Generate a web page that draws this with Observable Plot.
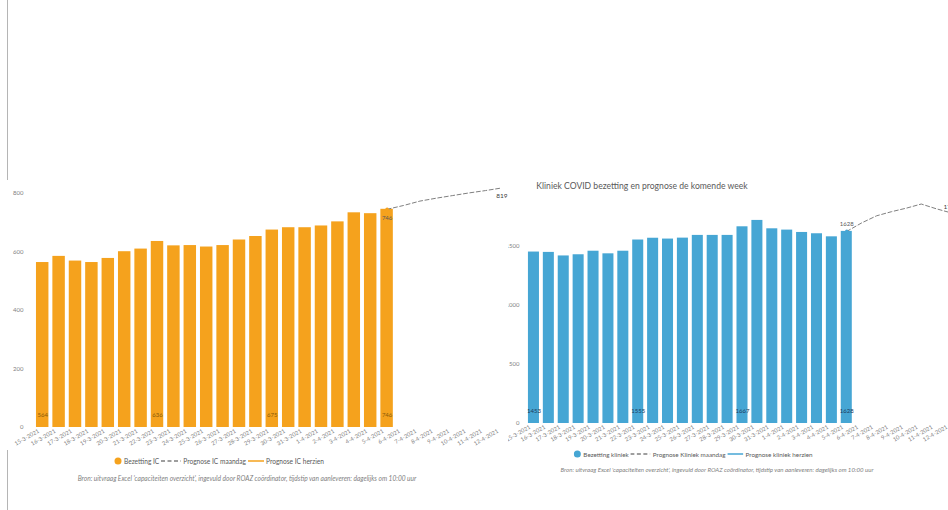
<!DOCTYPE html>
<html><head><meta charset="utf-8">
<script src="https://cdn.jsdelivr.net/npm/d3@7"></script>
<script src="https://cdn.jsdelivr.net/npm/@observablehq/plot@0.6"></script>
<style>
body{margin:0;background:#fff;}
#wrap{position:relative;width:948px;height:510px;overflow:hidden;background:#fff;font-family:Lato,"Open Sans",sans-serif;}
.abs{position:absolute;white-space:nowrap;}
.ctr{transform:translate(-50%,-50%);}
.legend{color:#595959;display:flex;align-items:center;}
.legend svg{display:inline-block;margin:0 2px;}
.cap{color:#7f7f7f;font-style:italic;}
#border{position:absolute;left:7px;top:0;width:1px;height:510px;background:#b5b5b5;}
</style></head><body><div id="wrap"><div id="border"></div></div>
<script>
const dates = ["15-3-2021","16-3-2021","17-3-2021","18-3-2021","19-3-2021","20-3-2021","21-3-2021","22-3-2021","23-3-2021","24-3-2021","25-3-2021","26-3-2021","27-3-2021","28-3-2021","29-3-2021","30-3-2021","31-3-2021","1-4-2021","2-4-2021","3-4-2021","4-4-2021","5-4-2021","6-4-2021","7-4-2021","8-4-2021","9-4-2021","10-4-2021","11-4-2021","12-4-2021"];
const bezettingDates = dates.slice(0, 22);
const prognoseDates = dates.slice(21);
const bezettingIC = [564,585,569,564,578,601,610,636,621,622,617,622,641,653,675,683,683,689,703,734,731,746];
const prognoseIC = [746,759,774,784,793,802,810,819];
const bezettingKliniek = [1453,1450,1420,1430,1460,1438,1460,1555,1570,1563,1571,1594,1594,1594,1667,1721,1650,1639,1619,1608,1582,1628];
const prognoseKliniek = [1628,1700,1760,1795,1825,1860,1820,1785];
const labelIdx = [0,7,14,21];
const icTicks = [0,200,400,600,800];
const kliniekTicks = [0,500,1000,1500];

const ORANGE = "#F5A21D", BLUE = "#46A6D4";

function chart(o){
  const bars = bezettingDates.map((d,i)=>({date:d, value:o.bez[i]}));
  const prog = prognoseDates.map((d,i)=>({date:d, value:o.prog[i]}));
  const lab = labelIdx.map(i=>bars[i]);
  return Plot.plot({
    width:o.width, height:270, marginTop:o.mt, marginBottom:o.mb, marginLeft:o.range[0], marginRight:0,
    x:{type:"band", domain:dates, range:o.range, paddingInner:o.pad, paddingOuter:o.pad/2, round:false, label:null},
    y:{domain:o.ydom, label:null},
    style:{fontFamily:"Lato, 'Open Sans', sans-serif", fontSize:"6px", color:"#7f7f7f", background:o.bg, overflow:"visible"},
    marks:[
      Plot.axisY(o.ticks, {tickSize:0, tickPadding:o.tp, fontSize:6, fill:"#7f7f7f", label:null, tickFormat:d=>String(d)}),
      Plot.axisX(dates, {tickSize:0, tickPadding:3, tickRotate:-30, fontSize:5.7, fill:"#7f7f7f", dx:-4, label:null}),
      Plot.barY(bars, {x:"date", y:"value", fill:o.color}),
      Plot.text(lab, {x:"date", y:0, text:d=>String(d.value), dy:-12, fontSize:6, fill:o.labColor}),
      Plot.line(prog, {x:"date", y:"value", stroke:"#7f7f7f", strokeWidth:1, strokeDasharray:"4,2.5"}),
      Plot.dot([prog[0]], {x:"date", y:"value", r:1.8, fill:o.color}),
      Plot.text([prog[0]], {x:"date", y:"value", text:d=>String(d.value), dy:o.firstDy, fontSize:6, fill:"#595959"}),
      Plot.text([prog[prog.length-1]], {x:"date", y:"value", text:d=>String(d.value), dy:o.lastDy, dx:o.lastDx, fontSize:6.5, fill:"#404040"})
    ]
  });
}

const wrap = document.getElementById("wrap");

const right = chart({width:470, mt:7, mb:27, range:[26,458], pad:0.26, ydom:[0,2000], ticks:kliniekTicks, tp:7,
  bez:bezettingKliniek, prog:prognoseKliniek, color:BLUE, labColor:"#1d3b5e", bg:"transparent", firstDy:-7, lastDy:-6, lastDx:0});
right.style.position="absolute"; right.style.left="500px"; right.style.top="180px"; right.style.zIndex=1;
wrap.appendChild(right);

const left = chart({width:508, mt:13, mb:23, range:[34,509.6], pad:0.24, ydom:[0,800], ticks:icTicks, tp:11,
  bez:bezettingIC, prog:prognoseIC, color:ORANGE, labColor:"#8a5a08", bg:"white", firstDy:9, lastDy:8, lastDx:0});
left.style.position="absolute"; left.style.left="0px"; left.style.top="180px"; left.style.zIndex=2;
wrap.appendChild(left);

function addDiv(html, cls, x, y, style){
  const d=document.createElement("div");
  d.className="abs ctr "+cls; d.style.left=x+"px"; d.style.top=y+"px"; d.style.zIndex=3;
  Object.assign(d.style, style||{}); d.innerHTML=html; wrap.appendChild(d);
}
const dot = c=>`<svg width="8" height="8"><circle cx="4" cy="4" r="3.5" fill="${c}"/></svg>`;
const dash = `<svg width="20" height="4"><line x1="0" x2="20" y1="2" y2="2" stroke="#7f7f7f" stroke-width="1.3" stroke-dasharray="4,2.5"/></svg>`;
const solid = c=>`<svg width="16" height="4"><line x1="0" x2="16" y1="2" y2="2" stroke="${c}" stroke-width="1.5"/></svg>`;

addDiv(`${dot(ORANGE)}<span>Bezetting IC</span>${dash}<span>Prognose IC maandag</span>${solid(ORANGE)}<span>Prognose IC herzien</span>`, "legend", 218, 461, {fontSize:"6.6px"});
addDiv(`Bron: uitvraag Excel 'capaciteiten overzicht', ingevuld door ROAZ coördinator, tijdstip van aanleveren: dagelijks om 10:00 uur`, "cap", 247, 478, {fontSize:"6.6px"});
addDiv(`Kliniek COVID bezetting en prognose de komende week`, "", 642, 186, {fontSize:"8.6px", color:"#595959"});
addDiv(`${dot(BLUE)}<span>Bezetting kliniek</span>${dash}<span>Prognose Kliniek maandag</span>${solid(BLUE)}<span>Prognose kliniek herzien</span>`, "legend", 692, 454, {fontSize:"6.3px"});
addDiv(`Bron: uitvraag Excel 'capaciteiten overzicht', ingevuld door ROAZ coördinator, tijdstip van aanleveren: dagelijks om 10:00 uur`, "cap", 717, 469, {fontSize:"6.1px"});
</script></body></html>
